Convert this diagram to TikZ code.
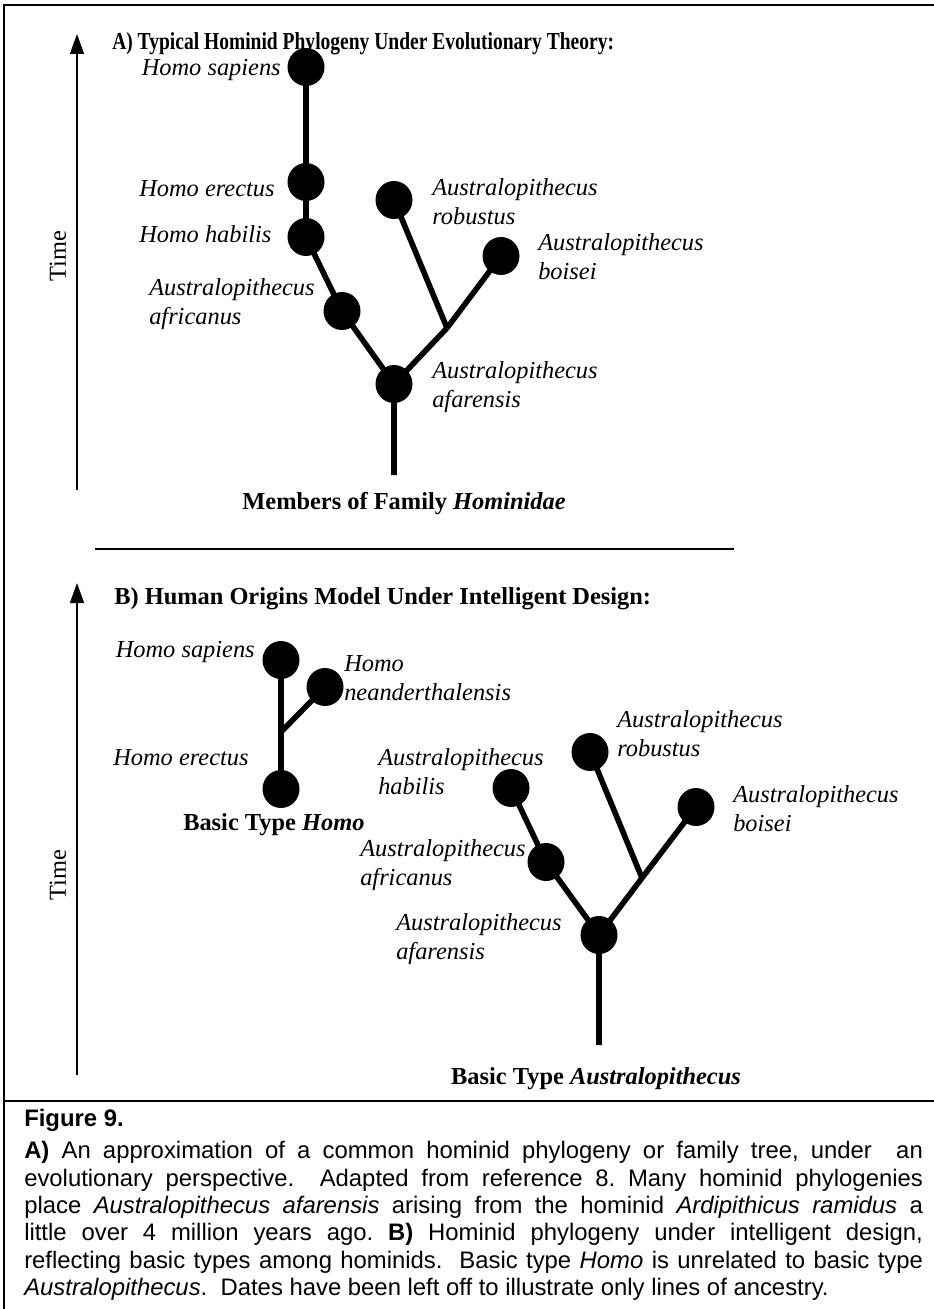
\documentclass[tikz,border=0pt]{standalone}
\usepackage{fontspec}
\setmainfont{Liberation Serif}
\setsansfont{Liberation Sans}
\usepackage{graphicx}
\usetikzlibrary{arrows.meta,shapes.geometric}
\tikzset{
  ball/.style={ellipse, fill=black, inner sep=0pt, minimum width=27.75pt, minimum height=28.5pt},
  branch/.style={line width=4.2pt},
  axis/.style={line width=1.2pt, -{Triangle[width=10.5pt,length=15pt]}},
  lab/.style={font=\fontsize{18.3pt}{22pt}\selectfont\itshape, inner sep=0pt, align=left},
  ttl/.style={font=\fontsize{18.3pt}{22pt}\selectfont\bfseries, inner sep=0pt},
  timelab/.style={font=\fontsize{18.3pt}{22pt}\selectfont, rotate=90, inner sep=0pt},
  rulethin/.style={line width=1.5pt},
  rulethick/.style={line width=2.2pt},
}
\begin{document}
\begin{tikzpicture}[x=0.75pt,y=-0.75pt]
\useasboundingbox (0,0) rectangle (934,1309);
% frame
\coordinate (fb) at (4,1312);
\coordinate (ftl) at (4,5);
\coordinate (ftr) at (936,5);
\draw[rulethick] (fb) -- (ftl) -- (ftr);

% ---------------- Part A ----------------
\coordinate (axA0) at (77,490);
\coordinate (axA1) at (77,34);
\draw[axis] (axA0) -- (axA1);
\node[timelab] (timeA) at (58,256) {Time};
\node[ttl, anchor=base west] (titleA) at (112,50) {\scalebox{0.8}[1]{A) Typical Hominid Phylogeny Under Evolutionary Theory:}};

\node[ball] (sapA) at (306,67) {};
\node[ball] (ereA) at (306,182) {};
\node[ball] (habA) at (306,237) {};
\node[ball] (afrA) at (342,311) {};
\node[ball] (afaA) at (394,384) {};
\node[ball] (robA) at (394,200) {};
\node[ball] (boiA) at (501,256) {};
\coordinate (jA) at (447,328);
\coordinate (stemA) at (394,475);

\draw[branch] (sapA.center) -- (ereA.center) -- (habA.center) -- (afrA.center) -- (afaA.center) -- (stemA);
\draw[branch] (afaA.center) -- (jA);
\draw[branch] (jA) -- (robA.center);
\draw[branch] (jA) -- (boiA.center);

\node[lab, anchor=base east] (tsapA) at (281,76) {Homo sapiens};
\node[lab, anchor=base west] (tereA) at (139,196) {Homo erectus};
\node[lab, anchor=base west] (thabA) at (139,242) {Homo habilis};
\node[lab, anchor=north west] (tafrA) at (149,278) {Australopithecus\\africanus};
\node[lab, anchor=north west] (trobA) at (432,178) {Australopithecus\\robustus};
\node[lab, anchor=north west] (tboiA) at (538,233) {Australopithecus\\boisei};
\node[lab, anchor=north west] (tafaA) at (432,361) {Australopithecus\\afarensis};
\node[ttl, anchor=base] (famA) at (404,509) {Members of Family \textit{Hominidae}};

\coordinate (sep0) at (95,549);
\coordinate (sep1) at (734,549);
\draw[rulethin] (sep0) -- (sep1);

% ---------------- Part B ----------------
\coordinate (axB0) at (77,1075);
\coordinate (axB1) at (77,583);
\draw[axis] (axB0) -- (axB1);
\node[timelab] (timeB) at (58,875) {Time};
\node[ttl, anchor=base west] (titleB) at (114,604) {B) Human Origins Model Under Intelligent Design:};

\node[ball] (sapB) at (281,660) {};
\node[ball] (neaB) at (325,687) {};
\node[ball] (ereB) at (281,789) {};
\coordinate (jH) at (281,732);
\draw[branch] (sapB.center) -- (ereB.center);
\draw[branch] (jH) -- (neaB.center);

\node[ball] (habB) at (511,788) {};
\node[ball] (afrB) at (546,862) {};
\node[ball] (afaB) at (599,935) {};
\node[ball] (robB) at (590,752) {};
\node[ball] (boiB) at (696,807) {};
\coordinate (jB) at (642,878);
\coordinate (stemB) at (599,1045);
\draw[branch] (habB.center) -- (afrB.center) -- (afaB.center) -- (stemB);
\draw[branch] (afaB.center) -- (jB);
\draw[branch] (jB) -- (robB.center);
\draw[branch] (jB) -- (boiB.center);

\node[lab, anchor=base east] (tsapB) at (255,657) {Homo sapiens};
\node[lab, anchor=north west] (tneaB) at (344,655) {Homo\\neanderthalensis};
\node[lab, anchor=base west] (tereB) at (113,765) {Homo erectus};
\node[ttl, anchor=base west] (typH) at (183,830) {Basic Type \textit{Homo}};
\node[lab, anchor=north west] (thabB) at (378,748) {Australopithecus\\habilis};
\node[lab, anchor=north west] (tafrB) at (360,839) {Australopithecus\\africanus};
\node[lab, anchor=north west] (tafaB) at (396,913) {Australopithecus\\afarensis};
\node[lab, anchor=north west] (trobB) at (617,710) {Australopithecus\\robustus};
\node[lab, anchor=north west] (tboiB) at (733,785) {Australopithecus\\boisei};
\node[ttl, anchor=base] (typA) at (596,1084) {Basic Type \textit{Australopithecus}};

% ---------------- Caption ----------------
\coordinate (cr0) at (4,1101);
\coordinate (cr1) at (936,1101);
\draw[rulethick] (cr0) -- (cr1);
\node[anchor=north west, inner sep=0pt, text width=674pt, align=justify,
      font=\sffamily\fontsize{17.9pt}{20.6pt}\selectfont] (cap) at (24,1109) {%
\frenchspacing
\textbf{Figure 9.}\par\vspace{3.4pt}
\textbf{A)} An approximation of a common hominid phylogeny or family tree, under\ \ an\linebreak
evolutionary perspective.\ \ Adapted from reference 8. Many hominid phylogenies\linebreak
place \textit{Australopithecus afarensis} arising from the hominid \textit{Ardipithicus ramidus} a\linebreak
little over 4 million years ago. \textbf{B)} Hominid phylogeny under intelligent design,\linebreak
reflecting basic types among hominids.\ \ Basic type \textit{Homo} is unrelated to basic type\linebreak
\textit{Australopithecus}.\ \ Dates have been left off to illustrate only lines of ancestry.\par};
\end{tikzpicture}
\end{document}
